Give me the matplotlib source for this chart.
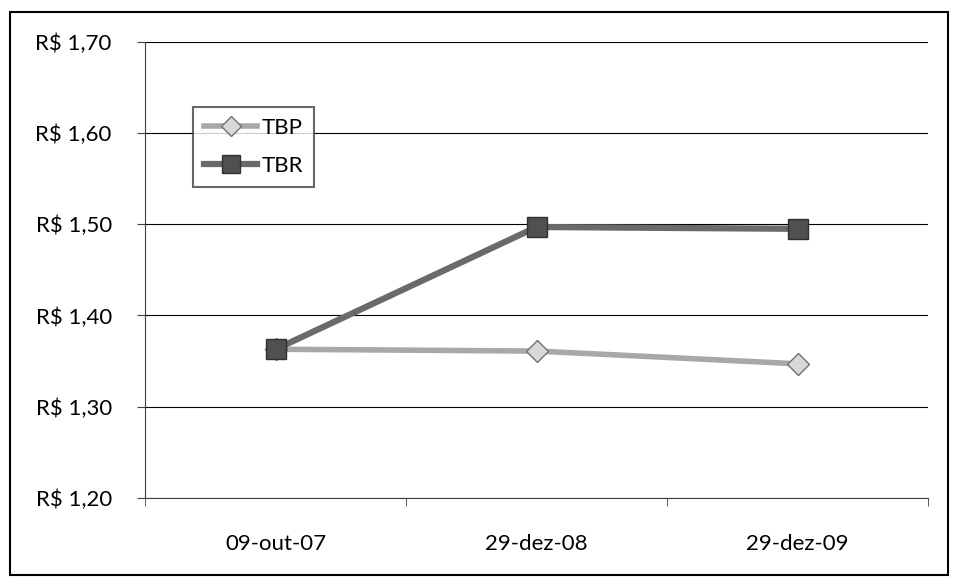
import matplotlib.pyplot as plt
from matplotlib.patches import Rectangle
import matplotlib.ticker as mticker

plt.rcParams['font.family'] = ['Lato', 'DejaVu Sans']

# ── Data ───────────────────────────────────────────────────────────────────────
dates = ["09-out-07", "29-dez-08", "29-dez-09"]
tbp   = [1.363, 1.361, 1.347]
tbr   = [1.363, 1.497, 1.495]
yticks = [1.20, 1.30, 1.40, 1.50, 1.60, 1.70]

fig = plt.figure(figsize=(9.55, 5.81), dpi=100)
ax = fig.add_axes([0.152, 0.143, 0.820, 0.785])

x = list(range(len(dates)))
ax.plot(x, tbp, color="#a8a8a8", linewidth=4, marker="D", markersize=11,
        markerfacecolor="#d8d8d8", markeredgecolor="#707070", markeredgewidth=1,
        label="TBP", zorder=3)
ax.plot(x, tbr, color="#6a6a6a", linewidth=4.5, marker="s", markersize=14,
        markerfacecolor="#505050", markeredgecolor="#303030", markeredgewidth=1,
        label="TBR", zorder=4)

ax.set_xlim(-0.5, 2.5)
ax.set_ylim(1.20, 1.70)
ax.set_yticks(yticks)
ax.yaxis.set_major_formatter(mticker.FuncFormatter(
    lambda v, p: "R$ " + f"{v:.2f}".replace(".", ",")))
ax.set_xticks(x)
ax.set_xticklabels(dates)
ax.set_xticks([-0.5, 0.5, 1.5, 2.5], minor=True)
ax.tick_params(axis="x", which="major", length=0, pad=26, labelsize=16)
ax.tick_params(axis="x", which="minor", length=6, color="#404040")
ax.tick_params(axis="y", length=6, color="#404040", labelsize=16, pad=18)

ax.grid(axis="y", color="black", linewidth=0.8)
ax.set_axisbelow(True)
for s in ["top", "right"]:
    ax.spines[s].set_visible(False)
ax.spines["left"].set_color("#404040")
ax.spines["bottom"].set_color("#404040")

leg = ax.legend(loc="upper left", bbox_to_anchor=(0.061, 0.857), fontsize=16,
                frameon=True, fancybox=False, edgecolor="#404040",
                handlelength=2.4, handletextpad=0.2, labelspacing=0.8,
                borderpad=0.5, borderaxespad=0, markerscale=0.9)
leg.get_frame().set_linewidth(1.5)

# outer chart border
fig.patches.append(Rectangle((10 / 955, 6 / 581), 938 / 955, 563 / 581,
                             transform=fig.transFigure, fill=False,
                             edgecolor="black", linewidth=1.5))

fig.savefig("out.png", dpi=100, facecolor="white")
